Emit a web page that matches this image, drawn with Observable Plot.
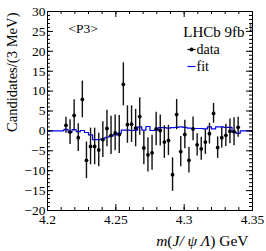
<!DOCTYPE html>
<html>
<head>
<meta charset="utf-8">
<script src="https://cdn.jsdelivr.net/npm/d3@7"></script>
<script src="https://cdn.jsdelivr.net/npm/@observablehq/plot@0.6"></script>
<style>
  html, body { margin: 0; padding: 0; background: white; }
</style>
</head>
<body>
<div id="chart"></div>
<script>
// Bin centres (3 MeV bins), GeV
const binCenters = [4.2135, 4.2165, 4.2195, 4.2225, 4.2255, 4.2285, 4.2315, 4.2345, 4.2375, 4.2405,
  4.2435, 4.2465, 4.2495, 4.2525, 4.2555, 4.2585, 4.2615, 4.2645, 4.2675, 4.2705,
  4.2735, 4.2765, 4.2795, 4.2825, 4.2855, 4.2885, 4.2915, 4.2945, 4.2975, 4.3005,
  4.3035, 4.3065, 4.3095, 4.3125, 4.3155, 4.3185, 4.3215, 4.3245, 4.3275, 4.3305,
  4.3335, 4.3365, 4.3395];
// Data values (candidates per 3 MeV)
const dataValues = [1.4, -0.3, 3.9, -1.7, 7.9, -7.4, -3.9, -3.9, -4.8, -2.2,
  0.6, -1.1, -0.5, -0.9, 11.7, 1.6, 1.7, 0.7, 3.6, -4.3,
  -6.0, -5.5, 0.5, 0.1, -2.8, -2.4, -11.0, 4.1, -5.2, -0.9,
  -7.4, 0.5, -3.5, -4.5, -2.8, -0.7, 4.4, -4.2, -1.7, -1.1,
  -0.1, -0.2, 0.9];
// Symmetric errors
const dataErrors = [2.0, 3.1, 3.9, 3.5, 4.6, 4.6, 4.6, 4.6, 4.2, 4.5,
  4.6, 4.8, 4.5, 4.8, 5.4, 4.7, 4.6, 4.7, 4.7, 4.2,
  4.3, 4.4, 4.2, 3.9, 4.1, 3.8, 4.2, 3.8, 3.8, 3.6,
  3.2, 3.0, 2.8, 2.9, 3.1, 2.6, 2.5, 2.7, 2.6, 2.8,
  3.1, 3.5, 2.5];
// Fit step edges and values
const fitEdges = [4.2, 4.212, 4.215, 4.218, 4.221, 4.224, 4.227, 4.230, 4.233, 4.236, 4.239,
  4.242, 4.245, 4.248, 4.251, 4.254, 4.257, 4.260, 4.263, 4.266, 4.269,
  4.272, 4.275, 4.278, 4.281, 4.284, 4.287, 4.290, 4.293, 4.296, 4.299,
  4.302, 4.305, 4.308, 4.311, 4.314, 4.317, 4.320, 4.323, 4.326, 4.329,
  4.332, 4.335, 4.338, 4.341, 4.35];
const fitValues = [0, 0.4, -0.3, 0.3, -0.2, 0.1, -0.4, -1.0, -2.2, -2.2, -2.0,
  -1.6, -1.3, -1.0, -0.6, 0.2, 0.2, 0.1, 0.2, 1.0, 0.2,
  1.1, 0.1, 0.2, 0.8, 0.8, 0.7, 0.8, 0.9, 1.0, 0.9,
  0.7, 0.6, 0.6, 0.6, 0.5, 1.0, 0.5, 1.0, 1.0, 0.9,
  0.9, -0.3, -0.6, 0, 0];
// Axis ticks
const xMajor = [4.2, 4.25, 4.3, 4.35];
const yMajor = [-20, -15, -10, -5, 0, 5, 10, 15, 20, 25, 30];
const xMinor = d3.range(4.2, 4.3501, 0.01).map(v => +v.toFixed(3));
const yMinor = d3.range(-20, 31, 1);

const data = binCenters.map((m, i) => ({m, v: dataValues[i], e: dataErrors[i]}));
const fit = fitEdges.map((m, i) => ({m, v: fitValues[i]}));

const W = 266, H = 251, ML = 47, MR = 14, MT = 11, MB = 41;
const FW = W - ML - MR, FH = H - MT - MB;
const majL = 6, minL = 3;
const SERIF = "Liberation Serif";

const fmt = d3.format("");
const hline = {draw(ctx) { ctx.moveTo(-4, 0); ctx.lineTo(4, 0); }};

const chart = Plot.plot({
  width: W, height: H,
  marginLeft: ML, marginRight: MR, marginTop: MT, marginBottom: MB,
  style: {fontFamily: SERIF, fontSize: "13.5px", background: "white", color: "black"},
  x: {domain: [4.2, 4.35]},
  y: {domain: [-20, 30]},
  marks: [
    Plot.line(fit, {x: "m", y: "v", curve: "step-after", stroke: "#0000ff", strokeWidth: 1.2}),
    Plot.ruleX(data, {x: "m", y1: d => d.v - d.e, y2: d => d.v + d.e, stroke: "#111", strokeWidth: 1.4}),
    Plot.dot(data, {x: "m", y: "v", r: 1.9, fill: "black", stroke: "none"}),
    Plot.frame({stroke: "black", strokeWidth: 1}),
    Plot.tickX(xMajor, {x: d => d, insetTop: FH - majL, stroke: "black"}),
    Plot.tickX(xMinor, {x: d => d, insetTop: FH - minL, stroke: "black"}),
    Plot.tickX(xMajor, {x: d => d, insetBottom: FH - majL, stroke: "black"}),
    Plot.tickX(xMinor, {x: d => d, insetBottom: FH - minL, stroke: "black"}),
    Plot.tickY(yMajor, {y: d => d, insetRight: FW - majL, stroke: "black"}),
    Plot.tickY(yMinor, {y: d => d, insetRight: FW - minL, stroke: "black"}),
    Plot.tickY(yMajor, {y: d => d, insetLeft: FW - majL, stroke: "black"}),
    Plot.tickY(yMinor, {y: d => d, insetLeft: FW - minL, stroke: "black"}),
    Plot.axisX({ticks: xMajor, tickSize: 0, tickPadding: 4, tickFormat: fmt, label: null, fontSize: 13.5, fontFamily: SERIF}),
    Plot.axisY({ticks: yMajor, tickSize: 0, tickPadding: 2, tickFormat: fmt, label: null, fontSize: 13.5, fontFamily: SERIF}),
    Plot.text(["Candidates/(3 MeV)"], {frameAnchor: "top-left", rotate: -90, textAnchor: "end", lineAnchor: "middle", dx: -35, dy: 1, fontSize: 14.6, fontFamily: SERIF}),
    Plot.text(["m(J/ ψ Λ) GeV"], {frameAnchor: "bottom-right", textAnchor: "end", lineAnchor: "middle", dx: -4, dy: 31, fontSize: 15.5, fontFamily: SERIF}),
    Plot.text(["<P3>"], {frameAnchor: "top-left", textAnchor: "start", lineAnchor: "middle", dx: 21, dy: 17, fontSize: 13.5, fontFamily: SERIF}),
    Plot.text(["LHCb 9fb"], {frameAnchor: "top-right", textAnchor: "end", lineAnchor: "middle", dx: -8, dy: 21, fontSize: 15, fontFamily: SERIF}),
    Plot.text(["-1"], {frameAnchor: "top-right", textAnchor: "start", lineAnchor: "middle", dx: -7.5, dy: 16, fontSize: 9.5, fontFamily: SERIF}),
    Plot.dot([0], {frameAnchor: "top-right", dx: -61, dy: 38, r: 4, stroke: "black", strokeWidth: 1.2, symbol: hline}),
    Plot.dot([0], {frameAnchor: "top-right", dx: -61, dy: 38, r: 1.9, fill: "black", stroke: "none"}),
    Plot.text(["data"], {frameAnchor: "top-right", textAnchor: "start", lineAnchor: "middle", dx: -56, dy: 38, fontSize: 14, fontFamily: SERIF}),
    Plot.dot([0], {frameAnchor: "top-right", dx: -61, dy: 55, r: 4, stroke: "#0000ff", strokeWidth: 1.2, symbol: hline}),
    Plot.text(["fit"], {frameAnchor: "top-right", textAnchor: "start", lineAnchor: "middle", dx: -56, dy: 55, fontSize: 14, fontFamily: SERIF})
  ]
});

const NS = "http://www.w3.org/2000/svg";
chart.querySelectorAll("text").forEach(t => {
  if (t.textContent === "m(J/ ψ Λ) GeV") {
    t.textContent = "";
    const a = document.createElementNS(NS, "tspan"); a.setAttribute("font-style", "italic"); a.textContent = "m";
    const b = document.createElementNS(NS, "tspan"); b.setAttribute("font-style", "italic"); b.textContent = "J/ ψ Λ";
    t.appendChild(a); t.appendChild(document.createTextNode("("));
    t.appendChild(b); t.appendChild(document.createTextNode(") GeV"));
  }
});

document.getElementById("chart").appendChild(chart);
</script>
</body>
</html>
